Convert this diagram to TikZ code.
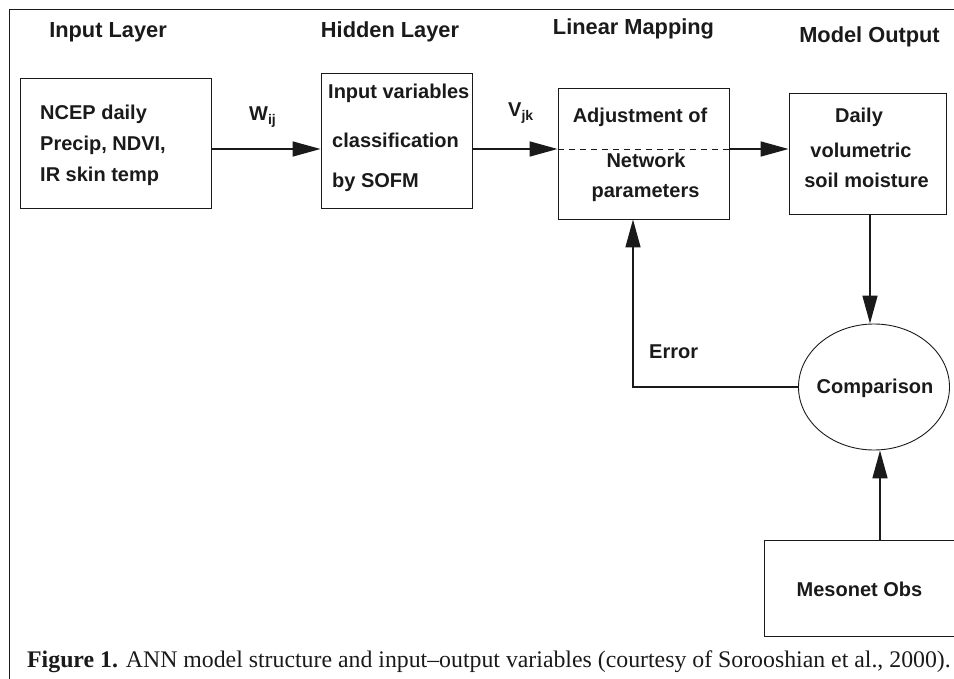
\documentclass[tikz,border=0pt]{standalone}
\usepackage{fontspec}
\setmainfont{Liberation Serif}
\setsansfont{Liberation Sans}
\usetikzlibrary{arrows.meta,shapes.geometric}
\definecolor{ink}{HTML}{1A1A1A}
\begin{document}
\begin{tikzpicture}[x=1pt,y=-1pt,
  lbl/.style={font=\sffamily\bfseries\fontsize{20}{23}\selectfont, text=ink, inner sep=0},
  hdr/.style={font=\sffamily\bfseries\fontsize{21.8}{24}\selectfont, text=ink, inner sep=0},
  box/.style={draw=ink, line width=0.9pt, inner sep=0, rectangle},
  arr/.style={draw=ink, line width=1.6pt, -{Triangle[length=28pt,width=15pt]}},
  conn/.style={draw=ink, line width=1.6pt}]
\useasboundingbox (0,0) rectangle (954,679);
% frame
\draw[ink, line width=1pt] (960,10) -- (9,10) -- (9,690);
% headers
\node[hdr, anchor=base] (h1) at (108,38) {Input Layer};
\node[hdr, anchor=base] (h2) at (390,38) {Hidden Layer};
\node[hdr, anchor=base] (h3) at (633.5,35) {Linear Mapping};
\node[hdr, anchor=base] (h4) at (869.5,43) {Model Output};
% boxes
\node[box, minimum width=191, minimum height=130] (in) at (115.5,143) {};
\node[box, minimum width=151, minimum height=135] (hid) at (396.5,140.5) {};
\node[box, minimum width=171, minimum height=131] (lin) at (643.5,153.5) {};
\node[box, minimum width=157, minimum height=121] (out) at (867.5,153.5) {};
\node[box, minimum width=196, minimum height=96] (mes) at (862,588) {};
\node[draw=ink, line width=0.9pt, ellipse, inner sep=0, minimum width=151, minimum height=126] (cmp) at (874,387) {};
% box texts
\node[lbl, anchor=base west] (t1a) at (40,120) {NCEP daily};
\node[lbl, anchor=base west] (t1b) at (40,151) {Precip, NDVI,};
\node[lbl, anchor=base west] (t1c) at (40,182) {IR skin temp};
\node[lbl, anchor=base west] (t2a) at (328,99) {Input variables};
\node[lbl, anchor=base west] (t2b) at (332,148) {classification};
\node[lbl, anchor=base west] (t2c) at (332,188) {by SOFM};
\node[lbl, anchor=base] (t3a) at (640,123) {Adjustment of};
\node[lbl, anchor=base] (t3b) at (646,168) {Network};
\node[lbl, anchor=base] (t3c) at (645.5,198) {parameters};
\node[lbl, anchor=base] (t4a) at (859,123) {Daily};
\node[lbl, anchor=base] (t4b) at (861,158) {volumetric};
\node[lbl, anchor=base] (t4c) at (866.5,188) {soil moisture};
\node[lbl, anchor=base] (t5) at (875,393) {Comparison};
\node[lbl, anchor=base] (t6) at (859.5,596) {Mesonet Obs};
% connector labels
\node[lbl, anchor=base west] (w) at (249,121) {W\textsubscript{ij}};
\node[lbl, anchor=base west] (v) at (508,117) {V\textsubscript{jk}};
\node[lbl, anchor=base west] (err) at (649,359) {Error};
% connectors
\coordinate (row) at (0,149);
\coordinate (ex) at (633,0);
\coordinate (dx) at (870,0);
\coordinate (ux) at (880,0);
\draw[arr] (in.east |- row) -- (hid.west |- row);
\draw[arr] (hid.east |- row) -- (lin.west |- row);
\draw[draw=ink, line width=0.9pt, dash pattern=on 6pt off 5pt] (lin.west |- row) -- (lin.east |- row);
\draw[arr] (lin.east |- row) -- (out.west |- row);
\draw[arr] (out.south -| dx) -- (cmp.north -| dx);
\draw[arr] (mes.north -| ux) -- (cmp.south -| ux);
\draw[arr] (cmp.west) -| (lin.south -| ex);
% caption
\node[anchor=base west, inner sep=0, text=ink, font=\fontsize{23.8}{26}\selectfont] (cap) at (27,667)
  {\textbf{Figure 1.} ANN model structure and input–output variables (courtesy of Sorooshian et al., 2000).};
\end{tikzpicture}
\end{document}
